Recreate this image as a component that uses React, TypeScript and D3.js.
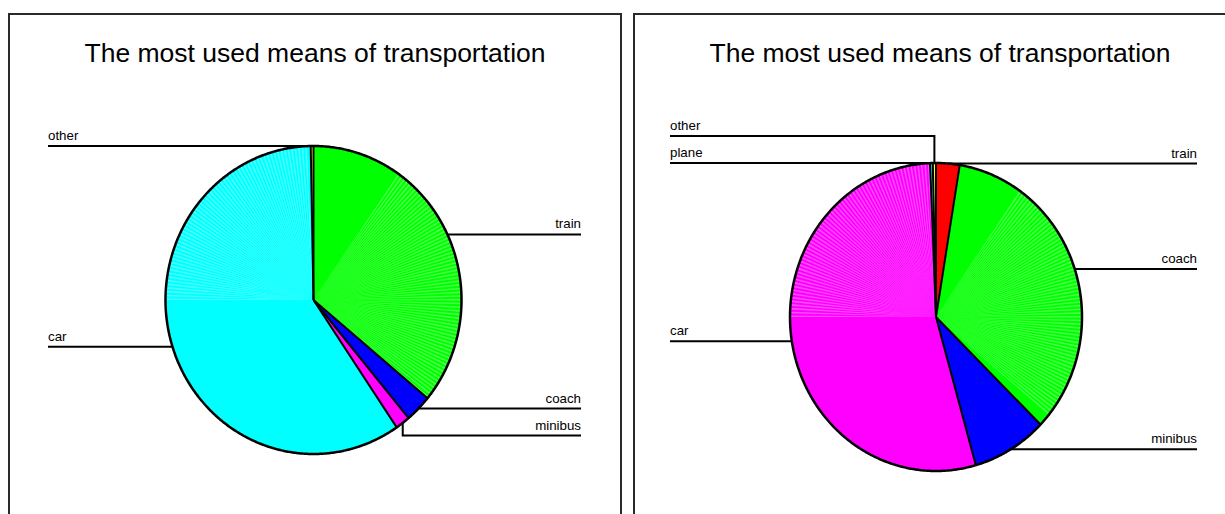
import React from "react";
import * as d3 from "d3";

// Shared title for both charts
const TITLE = "The most used means of transportation";

// First pie: share of each means of transport (percent)
const leftCategories = ["train", "coach", "minibus", "car", "other"];
const leftValues = [36.0, 2.9, 1.6, 59.2, 0.3];
const leftColors = ["#00ff00", "#0000ff", "#ff00ff", "#00ffff", "#ffff00"];

// Second pie: share of each means of transport (percent)
const rightCategories = ["train", "coach", "minibus", "car", "plane", "other"];
const rightValues = [2.6, 34.7, 8.3, 53.75, 0.3, 0.35];
const rightColors = ["#ff0000", "#00ff00", "#0000ff", "#ff00ff", "#00ffff", "#ffff00"];

const FONT = "'Liberation Sans', Arial, Helvetica, sans-serif";
const DEG = Math.PI / 180;

// angular bands (degrees, clockwise from 12 o'clock) drawn with pale streaks
const STREAK_BANDS: [number, number][] = [
  [35, 130],
  [270, 357],
];

type PanelProps = {
  x: number;
  y: number;
  w: number;
  h: number;
  cx: number;
  cy: number;
  rx: number;
  ry: number;
  labelLeftX: number;
  labelRightX: number;
  categories: string[];
  values: number[];
  colors: string[];
};

function PiePanel(p: PanelProps) {
  const arcs = d3
    .pie<number>()
    .sort(null)
    .value((d) => d)(p.values);

  const pt = (a: number, k = 1): [number, number] => [
    p.cx + p.rx * k * Math.sin(a),
    p.cy - p.ry * k * Math.cos(a),
  ];
  const line = d3.line();

  const wedge = (a0: number, a1: number) => {
    const n = Math.max(2, Math.ceil((a1 - a0) / (Math.PI / 360)));
    const pts: [number, number][] = [[p.cx, p.cy]];
    for (let i = 0; i <= n; i++) pts.push(pt(a0 + ((a1 - a0) * i) / n));
    return line(pts) + "Z";
  };

  const outline = (() => {
    const pts: [number, number][] = [];
    const n = 720;
    for (let i = 0; i <= n; i++) pts.push(pt((2 * Math.PI * i) / n));
    return line(pts) + "Z";
  })();

  // thin pale wedges that streak the large slices
  const streaks: string[] = [];
  STREAK_BANDS.forEach(([b0, b1]) => {
    for (let a = b0; a < b1; a += 1.4) {
      streaks.push(wedge(a * DEG, (a + 0.6) * DEG));
    }
  });

  // leader labels, pushed apart along each side in clockwise order
  const GAP = 27;
  let lastRight = -Infinity;
  let lastLeft = Infinity;
  const labels = arcs.map((d, i) => {
    const mid = (d.startAngle + d.endAngle) / 2;
    const [ax, ay] = pt(mid);
    const right = Math.sin(mid) >= 0;
    let ly = ay;
    if (right) {
      ly = Math.max(ay, lastRight + GAP);
      lastRight = ly;
    } else {
      ly = Math.min(ay, lastLeft - GAP);
      lastLeft = ly;
    }
    const ex = right ? p.labelRightX : p.labelLeftX;
    return { name: p.categories[i], right, ax, ay, ly, ex };
  });

  const clipId = `clip-${Math.round(p.cx)}`;

  return (
    <g>
      <rect
        x={p.x}
        y={p.y}
        width={p.w}
        height={p.h}
        fill="#ffffff"
        stroke="#2a2a2a"
        strokeWidth={2}
      />
      <text
        x={p.x + p.w / 2}
        y={62}
        textAnchor="middle"
        fontFamily={FONT}
        fontSize={26.5}
        fill="#000"
      >
        {TITLE}
      </text>
      <clipPath id={clipId}>
        <path d={outline} />
      </clipPath>
      {arcs.map((d, i) => (
        <path key={"s" + i} d={wedge(d.startAngle, d.endAngle)} fill={p.colors[i]} />
      ))}
      <g clipPath={`url(#${clipId})`}>
        {streaks.map((s, i) => (
          <path key={"w" + i} d={s} fill="#ffffff" fillOpacity={0.3} />
        ))}
      </g>
      {arcs.map((d, i) => {
        const [x0, y0] = pt(d.startAngle);
        return (
          <line
            key={"b" + i}
            x1={p.cx}
            y1={p.cy}
            x2={x0}
            y2={y0}
            stroke="#000"
            strokeWidth={2}
          />
        );
      })}
      <path d={outline} fill="none" stroke="#000" strokeWidth={2.5} />
      {labels.map((l, i) => (
        <g key={"l" + i}>
          <path
            d={`M${l.ax},${l.ay}L${l.ax},${l.ly}L${l.ex},${l.ly}`}
            fill="none"
            stroke="#000"
            strokeWidth={2}
          />
          <text
            x={l.ex}
            y={l.ly - 6}
            textAnchor={l.right ? "end" : "start"}
            fontFamily={FONT}
            fontSize={13.3}
            fill="#000"
          >
            {l.name}
          </text>
        </g>
      ))}
    </g>
  );
}

export default function App() {
  return (
    <svg
      width={1225}
      height={514}
      style={{ position: "absolute", left: 0, top: 0, background: "#fff" }}
    >
      <PiePanel
        x={9}
        y={14}
        w={612}
        h={520}
        cx={313.5}
        cy={300}
        rx={148}
        ry={154}
        labelLeftX={48}
        labelRightX={581}
        categories={leftCategories}
        values={leftValues}
        colors={leftColors}
      />
      <PiePanel
        x={634}
        y={14}
        w={612}
        h={520}
        cx={936}
        cy={317}
        rx={146}
        ry={154}
        labelLeftX={670}
        labelRightX={1197}
        categories={rightCategories}
        values={rightValues}
        colors={rightColors}
      />
    </svg>
  );
}
